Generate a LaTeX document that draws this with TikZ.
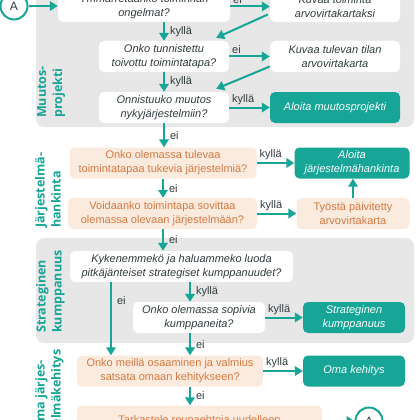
\documentclass[tikz,border=0pt]{standalone}
\usepackage{fontspec}
\setmainfont{Liberation Sans}
\newfontfamily\sivufont{Open Sans}
\usetikzlibrary{positioning, arrows.meta, calc}
\definecolor{colorTulos}{RGB}{22,165,150}
\definecolor{colorOranssi}{RGB}{251,235,222}
\definecolor{colorOranssiTeksti}{RGB}{214,122,66}
\definecolor{colorHarmaa}{RGB}{231,231,231}
\definecolor{colorTeksti}{RGB}{50,60,62}

\begin{document}
\begin{tikzpicture}[
	x=1pt, y=-1pt,
	font=\fontsize{11}{14}\selectfont,
	laatikko/.style={rectangle, rounded corners=5pt, align=center, minimum height=31pt, inner sep=2pt},
	kysymys/.style={laatikko, fill=white, text=colorTeksti, font=\fontsize{11}{14}\selectfont\itshape},
	oranssi/.style={laatikko, fill=colorOranssi, text=colorOranssiTeksti},
	tulos/.style={laatikko, fill=colorTulos, text=white, font=\fontsize{11}{14}\selectfont\itshape},
	nuoli/.style={-{Triangle[length=8pt, width=9.5pt]}, draw=colorTulos, line width=2pt},
	vastaus/.style={text=colorTeksti, inner sep=2pt, font=\fontsize{11}{13}\selectfont},
	alue/.style={fill=colorHarmaa, rounded corners=8pt},
	otsikko/.style={rotate=90, anchor=north west, align=left, inner sep=0pt, text=colorTulos,
	                font=\sivufont\bfseries\fontsize{12.5}{16}\selectfont},
	ympyra/.style={circle, draw=colorTulos, line width=2pt, fill=white, minimum size=27pt,
	               inner sep=0pt, text=colorTeksti, font=\fontsize{12}{14}\selectfont},
	]

\useasboundingbox (0,0) rectangle (420,420);
\clip (0,0) rectangle (420,420);

% Taustat
\fill[alue] (36,-30) rectangle (414,127);
\fill[alue] (36,238) rectangle (414,343);

% Muutosprojekti
\node[ympyra] (a1) at (14,6) {A};
\node[kysymys, minimum width=172pt] (k1) at (144,6.5) {Ymmärretäänkö toiminnan\\ongelmat?};
\node[kysymys, minimum width=130pt] (v1) at (335,6.5) {Kuvaa toiminta\\arvovirtakartaksi};
\node[kysymys, minimum width=130pt] (k2) at (164,56.5) {Onko tunnistettu\\toivottu toimintatapa?};
\node[kysymys, minimum width=130pt] (v2) at (335,56.5) {Kuvaa tulevan tilan\\arvovirtakarta};
\node[kysymys, minimum width=130pt] (k3) at (164,107.5) {Onnistuuko muutos\\nykyjärjestelmiin?};
\node[tulos, minimum width=130pt] (v3) at (335,107.5) {Aloita muutosprojekti};

\draw[nuoli] (a1.east) -- (a1.east -| k1.west);
\draw[nuoli] (k1) -- node[vastaus, above right, pos=0] {ei} (v1);
\draw[nuoli] ($(v1.west)+(-2,8)$) -- ($(k2.north east)+(-13,-3)$);
\draw[nuoli] (k1.south -| k2.south) -- node[vastaus, right=3pt, midway] {kyllä} (k2.north);
\draw[nuoli] (k2) -- node[vastaus, above right, pos=0] {ei} (v2);
\draw[nuoli] ($(v2.west)+(0,10)$) -- ($(k3.north east)+(-13,-3)$);
\draw[nuoli] (k2.south) -- node[vastaus, right=3pt, midway] {kyllä} (k3.north);
\draw[nuoli] (k3) -- node[vastaus, above right, pos=0] {kyllä} (v3);

% Järjestelmähankinta
\node[oranssi, minimum width=187pt] (k4) at (163,163) {Onko olemassa tulevaa\\toimintatapaa tukevia järjestelmiä?};
\node[tulos, minimum width=115pt] (v4) at (352,163) {Aloita\\järjestelmähankinta};
\node[oranssi, minimum width=189pt] (k5) at (162.5,213.5) {Voidaanko toimintapa sovittaa\\olemassa olevaan järjestelmään?};
\node[oranssi, minimum width=113pt] (v5) at (353,213.5) {Työstä päivitetty\\arvovirtakarta};

\draw[nuoli] (k3.south) -- node[vastaus, right=3pt, midway] {ei} (k3.south |- k4.north);
\draw[nuoli] (k4) -- node[vastaus, above right, pos=0] {kyllä} (v4);
\draw[nuoli] (k4.south) -- node[vastaus, right=3pt, midway] {ei} (k4.south |- k5.north);
\draw[nuoli] (k5) -- node[vastaus, above right, pos=0] {kyllä} (v5);
\draw[nuoli] (v5.north) -- (v5.north |- v4.south);

% Strateginen kumppanuus
\coordinate (eiX) at (111,0);
\coordinate (kyllaX) at (190,0);
\node[kysymys, minimum width=223pt] (k6) at (181.5,266.5) {Kykenemmekö ja haluammeko luoda\\pitkäjänteiset strategiset kumppanuudet?};
\node[kysymys, minimum width=132pt] (k7) at (199,317.5) {Onko olemassa sopivia\\kumppaneita?};
\node[tulos, minimum width=102pt] (v7) at (354,317.5) {Strateginen\\kumppanuus};

\draw[nuoli] (k5.south -| k4.south) -- node[vastaus, right=3pt, midway] {ei} (k4.south |- k6.north);
\draw[nuoli] (k6.south -| kyllaX) -- node[vastaus, right=3pt, midway] {kyllä} (k7.north -| kyllaX);
\draw[nuoli] (k7) -- node[vastaus, above right, pos=0] {kyllä} (v7);

% Oma järjestelmäkehitys
\node[oranssi, minimum width=186pt] (k8) at (170,371) {Onko meillä osaaminen ja valmius\\satsata omaan kehitykseen?};
\node[tulos, minimum width=102pt] (v8) at (354,371) {Oma kehitys};
\node[oranssi, minimum width=245pt] (k9) at (199.5,421) {Tarkastele reunaehtoja uudelleen};
\node[ympyra] (a2) at (369,421) {A};

\draw[nuoli] (k6.south -| eiX) -- node[vastaus, right=3pt, pos=0.25] {ei} (k8.north -| eiX);
\draw[nuoli] (k7.south -| kyllaX) -- node[vastaus, right=3pt, midway] {ei} (k8.north -| kyllaX);
\draw[nuoli] (k8) -- node[vastaus, above right, pos=0] {kyllä} (v8);
\draw[nuoli] (k8.south -| kyllaX) -- node[vastaus, right=3pt, midway] {ei} (k9.north -| kyllaX);
\draw[nuoli] (k9) -- (a2);

% Sivuotsikot
\node[otsikko] (o1) at (37,118) {Muutos-\\projekti};
\node[otsikko] (o2) at (35,228) {Järjestelmä-\\hankinta};
\node[otsikko] (o3) at (36,333) {Strateginen\\kumppanuus};
\node[otsikko] (o4) at (35,432) {Oma järjes-\\telmäkehitys};

\end{tikzpicture}
\end{document}
